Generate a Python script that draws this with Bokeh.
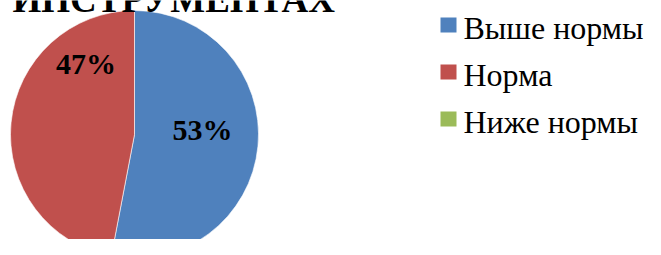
import math
from bokeh.plotting import figure
from bokeh.models import Range1d, ColumnDataSource
from bokeh.core.properties import value
from bokeh.embed import file_html
from bokeh.resources import INLINE

# ---- data ----
categories = ["Выше нормы", "Норма", "Ниже нормы"]
values = [53, 47, 0]
title_text = "ИНСТРУМЕНТАХ"

# ---- style / layout constants ----
colors = ["#4F81BD", "#C0504D", "#9BBB59"]
W, H = 645, 239
CX, CY, R = 134, H - 134, 124            # pie centre / radius (px)
LABEL_POLAR = [(4.3, 68.2), (124.3, 86.1)]   # label placement (deg, px) per slice
LEG_X, LEG_Y0, LEG_DY = 448, H - 24.5, 47
LEG_TEXT_DY = 2.7
SERIF = value("Liberation Serif")

p = figure(width=W, height=H, output_backend="svg", toolbar_location=None,
           x_range=Range1d(0, W), y_range=Range1d(0, H), min_border=0,
           border_fill_color="white", background_fill_color="white")
p.axis.visible = False
p.grid.visible = False
p.outline_line_color = None

total = sum(values)
starts, ends, cols, labels, lx, ly = [], [], [], [], [], []
cum = 0.0
for i, v in enumerate(values):
    frac0 = cum / total
    cum += v
    frac1 = cum / total
    if v <= 0:
        continue
    # clockwise from 12 o'clock
    starts.append(math.pi / 2 - frac1 * 2 * math.pi)
    ends.append(math.pi / 2 - frac0 * 2 * math.pi)
    cols.append(colors[i])
    ang, rr = LABEL_POLAR[i]
    labels.append(f"{round(100 * v / total)}%")
    lx.append(CX + rr * math.cos(math.radians(ang)))
    ly.append(CY + rr * math.sin(math.radians(ang)))

src = ColumnDataSource(dict(start=starts, end=ends, color=cols))
p.wedge(x=CX, y=CY, radius=R, start_angle="start", end_angle="end",
        direction="anticlock", fill_color="color", line_color="white",
        line_width=0.6, source=src)

p.text(x=lx, y=ly, text=labels, text_font=SERIF, text_font_style="bold",
       text_font_size="30px", text_align="center", text_baseline="middle",
       text_color="black")

# title (partly cut off at top, as in reference)
p.text(x=[12], y=[H + 1.5], text=[title_text], text_font=SERIF,
       text_font_style="bold", text_font_size="37px", text_align="left",
       text_baseline="middle", text_color="black")

# legend
ly_sq = [LEG_Y0 - i * LEG_DY for i in range(len(categories))]
p.rect(x=[LEG_X] * len(categories), y=ly_sq, width=16, height=15,
       fill_color=colors, line_color=None)
p.text(x=[LEG_X + 15] * len(categories), y=[y - LEG_TEXT_DY for y in ly_sq],
       text=categories, text_font=SERIF, text_font_size="32px",
       text_align="left", text_baseline="middle", text_color="black")

open("out.html", "w").write(file_html(p, INLINE))
